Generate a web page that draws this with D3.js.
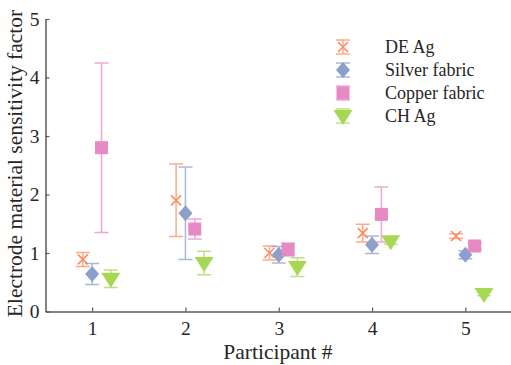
<html>
<head>
  <meta charset="UTF-8">
  <script src="https://d3js.org/d3.v7.min.js"></script>
  <style>
    body { margin: 0; background: #fff; }
    text { font-family: "Liberation Serif", "Times New Roman", "DejaVu Serif", serif; fill: #262626; }
  </style>
</head>
<body>
  <svg id="chart" width="511" height="365"></svg>
  <script>
    // Data
    const participants = [ 1, 2, 3, 4, 5 ];
    const seriesNames = [ "DE Ag", "Silver fabric", "Copper fabric", "CH Ag" ];
    const deAgMean = [ 0.89, 1.90, 1.00, 1.34, 1.29 ];
    const deAgErr = [ 0.12, 0.62, 0.12, 0.15, 0.04 ];
    const silverMean = [ 0.64, 1.68, 0.97, 1.14, 0.97 ];
    const silverErr = [ 0.18, 0.79, 0.14, 0.15, 0.07 ];
    const copperMean = [ 2.80, 1.41, 1.06, 1.66, 1.12 ];
    const copperErr = [ 1.45, 0.17, 0.11, 0.47, 0.05 ];
    const chAgMean = [ 0.56, 0.83, 0.76, 1.20, 0.30 ];
    const chAgErr = [ 0.15, 0.20, 0.16, 0.05, 0.03 ];
    const yTicks = [ 0, 1, 2, 3, 4, 5 ];

    const colors = [ "#fc8d62", "#8da0cb", "#e78ac3", "#a6d854" ];
    const offsets = [ -0.1, 0, 0.1, 0.2 ];
    const shapes = [ "x", "diamond", "square", "triangle" ];
    const means = [ deAgMean, silverMean, copperMean, chAgMean ];
    const errs = [ deAgErr, silverErr, copperErr, chAgErr ];

    const svg = d3.select( "#chart" );
    const x = d3.scaleLinear().domain( [ 0.5, 5.5 ] ).range( [ 45.5, 512 ] );
    const y = d3.scaleLinear().domain( [ 0, 5 ] ).range( [ 311.5, 19 ] );

    // axes
    const xAxis = svg.append( "g" )
      .attr( "transform", "translate(0," + y( 0 ) + ")" )
      .call( d3.axisBottom( x ).tickValues( participants ).tickFormat( d3.format( "d" ) )
        .tickSizeInner( -4 ).tickSizeOuter( 0 ).tickPadding( 10 ) );
    const yAxis = svg.append( "g" )
      .attr( "transform", "translate(" + x( 0.5 ) + ",0)" )
      .call( d3.axisLeft( y ).tickValues( yTicks ).tickFormat( d3.format( "d" ) )
        .tickSizeInner( -4 ).tickSizeOuter( 0 ).tickPadding( 6 ) );
    [ xAxis, yAxis ].forEach( function ( a ) {
      a.attr( "font-family", null );
      a.select( ".domain" ).attr( "stroke", "#5a5a5a" ).attr( "stroke-width", 1.5 );
      a.selectAll( ".tick line" ).attr( "stroke", "#5a5a5a" ).attr( "stroke-width", 1.2 );
      a.selectAll( "text" ).attr( "font-size", 19.5 ).attr( "fill", "#262626" );
    } );

    svg.append( "text" )
      .attr( "x", 278 ).attr( "y", 359 )
      .attr( "text-anchor", "middle" ).attr( "font-size", 21.5 )
      .text( "Participant #" );
    svg.append( "text" )
      .attr( "transform", "translate(22,163.5) rotate(-90)" )
      .attr( "text-anchor", "middle" ).attr( "font-size", 21.5 )
      .text( "Electrode material sensitivity factor" );

    function drawMarker( g, shape, color ) {
      if ( shape === "x" ) {
        g.append( "path" ).attr( "d", "M-5,-5L5,5M-5,5L5,-5" )
          .attr( "stroke", color ).attr( "stroke-width", 1.6 ).attr( "fill", "none" );
      } else if ( shape === "diamond" ) {
        g.append( "path" ).attr( "d", "M0,-8L7,0L0,8L-7,0Z" ).attr( "fill", color );
      } else if ( shape === "square" ) {
        g.append( "rect" ).attr( "x", -6.5 ).attr( "y", -6.5 ).attr( "width", 13 ).attr( "height", 13 ).attr( "fill", color );
      } else {
        g.append( "path" ).attr( "d", "M-9.5,-6L9.5,-6L0,9Z" ).attr( "fill", color );
      }
    }

    function drawErrBar( g, x0, yTop, yBot, color ) {
      g.append( "path" )
        .attr( "d", "M" + x0 + "," + yTop + "V" + yBot +
          "M" + ( x0 - 7 ) + "," + yTop + "H" + ( x0 + 7 ) +
          "M" + ( x0 - 7 ) + "," + yBot + "H" + ( x0 + 7 ) )
        .attr( "stroke", color ).attr( "stroke-width", 1.5 ).attr( "fill", "none" ).attr( "opacity", 0.75 );
    }

    // error bars and markers
    seriesNames.forEach( function ( name, s ) {
      const g = svg.append( "g" );
      participants.forEach( function ( p, i ) {
        const cx = x( p + offsets[ s ] );
        drawErrBar( g, cx, y( means[ s ][ i ] + errs[ s ][ i ] ), y( means[ s ][ i ] - errs[ s ][ i ] ), colors[ s ] );
      } );
      participants.forEach( function ( p, i ) {
        const m = g.append( "g" ).attr( "transform", "translate(" + x( p + offsets[ s ] ) + "," + y( means[ s ][ i ] ) + ")" );
        drawMarker( m, shapes[ s ], colors[ s ] );
      } );
    } );

    // legend
    const legend = svg.append( "g" );
    seriesNames.forEach( function ( name, s ) {
      const ly = 47 + s * 23;
      const row = legend.append( "g" );
      drawErrBar( row, 343, ly - 7, ly + 7, colors[ s ] );
      drawMarker( row.append( "g" ).attr( "transform", "translate(343," + ly + ")" ), shapes[ s ], colors[ s ] );
      row.append( "text" ).attr( "x", 385 ).attr( "y", ly + 6 ).attr( "font-size", 18 ).text( name );
    } );
  </script>
</body>
</html>
